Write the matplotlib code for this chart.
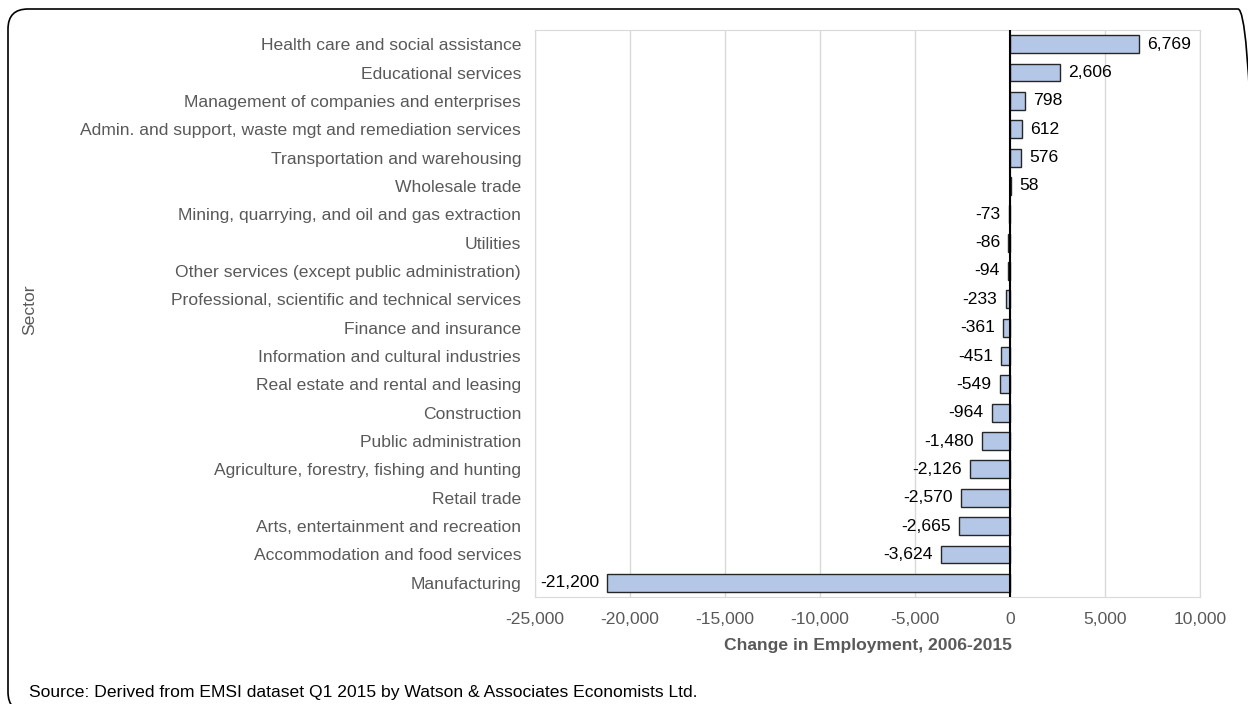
import matplotlib.pyplot as plt
from matplotlib.patches import FancyBboxPatch
from matplotlib.ticker import FuncFormatter
from matplotlib.transforms import Affine2D

plt.rcParams['font.family'] = ['Liberation Sans', 'DejaVu Sans']

sectors = [
    'Health care and social assistance',
    'Educational services',
    'Management of companies and enterprises',
    'Admin. and support, waste mgt and remediation services',
    'Transportation and warehousing',
    'Wholesale trade',
    'Mining, quarrying, and oil and gas extraction',
    'Utilities',
    'Other services (except public administration)',
    'Professional, scientific and technical services',
    'Finance and insurance',
    'Information and cultural industries',
    'Real estate and rental and leasing',
    'Construction',
    'Public administration',
    'Agriculture, forestry, fishing and hunting',
    'Retail trade',
    'Arts, entertainment and recreation',
    'Accommodation and food services',
    'Manufacturing',
]
change = [6769, 2606, 798, 612, 576, 58, -73, -86, -94, -233, -361, -451,
          -549, -964, -1480, -2126, -2570, -2665, -3624, -21200]

W, H = 1248, 704
fs = 12.6

fig = plt.figure(figsize=(W / 100, H / 100), dpi=100)
ax = fig.add_axes([535 / W, 1 - 597 / H, 665 / W, 567 / H])

pos = range(len(sectors))
ax.barh(pos, change, height=0.63, color='#B4C7E7', edgecolor='#262626',
        linewidth=1.0, zorder=3)

# value labels at the end of each bar
for y, v in zip(pos, change):
    txt = f'{v:,}'
    if v >= 0:
        ax.text(v + 430, y, txt, ha='left', va='center', fontsize=fs, color='black', zorder=4)
    else:
        ax.text(v - 430, y, txt, ha='right', va='center', fontsize=fs, color='black', zorder=4)

ax.axvline(0, color='black', linewidth=1.5, zorder=4)

ax.set_xlim(-25000, 10000)
ax.set_ylim(len(sectors) - 0.5, -0.5)
ax.set_xticks(range(-25000, 10001, 5000))
ax.xaxis.set_major_formatter(FuncFormatter(lambda x, p: f'{int(x):,}'))
ax.set_yticks(list(pos))
ax.set_yticklabels(sectors)

ax.grid(axis='x', color='#D9D9D9', linewidth=1.0, zorder=0)
for s in ax.spines.values():
    s.set_color('#D9D9D9')
ax.tick_params(axis='both', length=0, labelsize=fs, labelcolor='#595959')
ax.tick_params(axis='y', pad=10)
ax.tick_params(axis='x', pad=11)

ax.set_xlabel('Change in Employment, 2006-2015', fontsize=fs, fontweight='bold',
              color='#595959', labelpad=8)
fig.text(30 / W, 0.56, 'Sector', rotation=90, ha='center', va='center',
         fontsize=fs, color='#595959')

fig.text(29 / W, 1 - 693 / H, 'Source: Derived from EMSI dataset Q1 2015 by Watson & Associates Economists Ltd.',
         fontsize=fs, color='black', ha='left', va='center')

# rounded outer frame, laid out in pixels; right and bottom edges run off the canvas
px = Affine2D().scale(1 / W, 1 / H) + fig.transFigure
frame = FancyBboxPatch((8, -8), 1250, 703,
                       boxstyle='round,pad=0,rounding_size=20',
                       transform=px, fill=False,
                       edgecolor='black', linewidth=1.2)
fig.patches.append(frame)

fig.savefig('out.png', dpi=100)
